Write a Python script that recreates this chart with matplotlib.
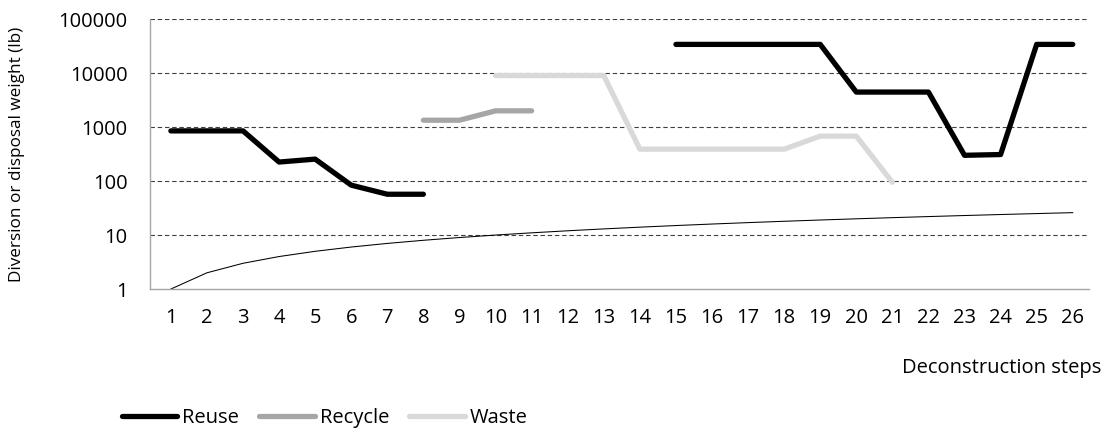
import numpy as np
import matplotlib.pyplot as plt

plt.rcParams['font.family'] = ['Open Sans', 'DejaVu Sans']

steps = list(range(1, 27))
nan = np.nan

reuse = [850, 850, 850, 225, 255, 84, 57, 57, nan, nan, nan, nan, nan, nan,
         34000, 34000, 34000, 34000, 34000, 4450, 4450, 4450, 300, 310, 34000, 34000]
recycle = [nan] * 7 + [1340, 1340, 2000, 2000] + [nan] * 15
waste = [nan] * 9 + [9000, 9000, 9000, 9000, 390, 390, 390, 390, 390, 680, 680, 95] + [nan] * 5
step_line = [1, 2, 3, 4, 5, 6, 7, 8, 9, 10, 11, 12, 13, 14, 15, 16, 17, 18, 19, 20,
             21, 22, 23, 24, 25, 26]

fs = 14.5

fig = plt.figure(figsize=(11.05, 4.34), dpi=100)
ax = fig.add_axes([0.1357, 0.334, 0.8498, 0.622])

ax.plot(steps, reuse, color='black', lw=3.8, solid_capstyle='round', label='Reuse')
ax.plot(steps, recycle, color='#a6a6a6', lw=3.8, solid_capstyle='round', label='Recycle')
ax.plot(steps, waste, color='#d9d9d9', lw=3.8, solid_capstyle='round', label='Waste')
ax.plot(steps, step_line, color='black', lw=0.75)

ax.set_yscale('log')
ax.set_ylim(1, 100000)
ax.set_xlim(0.42, 26.45)
ax.set_yticks([1, 10, 100, 1000, 10000, 100000])
ax.set_yticklabels(['1', '10', '100', '1000', '10000', '100000'])
ax.minorticks_off()
ax.set_xticks(steps)
ax.set_xticklabels([str(s) for s in steps])
ax.tick_params(axis='both', length=0, labelsize=fs, colors='#000000')
ax.tick_params(axis='x', pad=14)
ax.tick_params(axis='y', pad=16)

for v in [10, 100, 1000, 10000, 100000]:
    ax.axhline(v, color='#404040', lw=0.8, ls=(0, (4, 2.5)), zorder=0)

for s in ['top', 'right']:
    ax.spines[s].set_visible(False)
for s in ['left', 'bottom']:
    ax.spines[s].set_color('#a6a6a6')
    ax.spines[s].set_linewidth(1)

ax.set_ylabel('Diversion or disposal weight (lb)', fontsize=12.3)
ax.yaxis.set_label_coords(-0.133, 0.5)
fig.text(0.997, 0.152, 'Deconstruction steps', ha='right', va='center', fontsize=fs)

fig.legend(loc='center left', bbox_to_anchor=(0.094, 0.037), ncol=3, frameon=False,
           handlelength=2.75, handletextpad=0.25, columnspacing=1.0, fontsize=fs)

plt.savefig('out.png', dpi=100)
